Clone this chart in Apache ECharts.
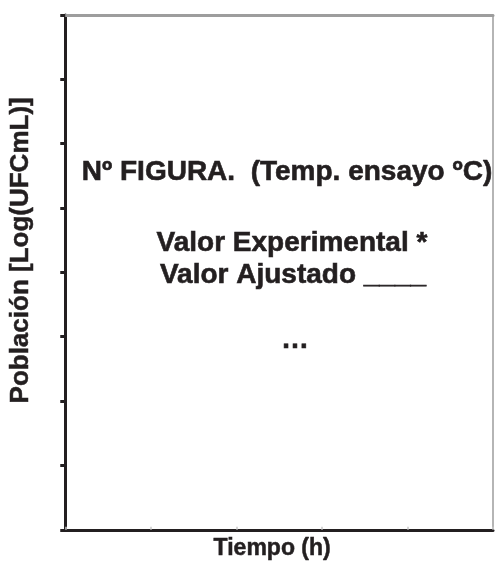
<!DOCTYPE html>
<html>
<head>
<meta charset="utf-8">
<script src="https://cdn.jsdelivr.net/npm/echarts@6/dist/echarts.min.js"></script>
<style>html,body{margin:0;padding:0;background:#fff}#c{width:495px;height:565px}</style>
</head>
<body>
<div id="c"></div>
<script>
// Template chart: no data points, only axes and placeholder texts
var xTicks = [0, 1, 2, 3, 4, 5];
var yTicks = [0, 1, 2, 3, 4, 5, 6, 7, 8];
var xAxisName = 'Tiempo (h)';
var yAxisName = 'Población [Log(UFCmL)]';
var titleText = 'Nº FIGURA.  (Temp. ensayo ºC)';
var legendLines = ['Valor Experimental *', 'Valor Ajustado ____'];
var moreText = '…';
var seriesValues = [];

var ink = '#231f20';
var font = 'Liberation Sans, Arial, sans-serif';
function txt(str, x, y, size) {
  return {type: 'text', x: x, y: y, style: {text: str, font: 'bold ' + size + 'px ' + font, fill: ink,
    stroke: ink, lineWidth: 0.6, align: 'center', verticalAlign: 'middle'}};
}
var chart = echarts.init(document.getElementById('c'), null, {renderer: 'canvas'});
chart.setOption({
  animation: false,
  grid: {left: 63, right: 2, top: 15, bottom: 33},
  xAxis: [{
    type: 'value', min: xTicks[0], max: xTicks[xTicks.length - 1], interval: 1,
    name: xAxisName, nameLocation: 'middle', nameGap: 7,
    nameTextStyle: {fontFamily: font, fontWeight: 'bold', fontSize: 23, color: ink,
      textBorderColor: ink, textBorderWidth: 0.5, padding: [0, 14, 0, 0]},
    axisLine: {lineStyle: {color: ink, width: 3}},
    axisTick: {show: true, inside: true, length: 3, lineStyle: {color: '#c8c8c8', width: 1.5}},
    axisLabel: {show: false}, splitLine: {show: false}
  }, {
    type: 'value', position: 'top', min: xTicks[0], max: xTicks[xTicks.length - 1], interval: 1,
    axisLine: {show: true, onZero: false, lineStyle: {color: '#9d9d9d', width: 3}},
    axisTick: {show: false}, axisLabel: {show: false}, splitLine: {show: false}
  }],
  yAxis: [{
    type: 'value', min: yTicks[0], max: yTicks[yTicks.length - 1], interval: 1,
    name: yAxisName, nameLocation: 'middle', nameGap: 31, nameRotate: 90,
    nameTextStyle: {fontFamily: font, fontWeight: 'bold', fontSize: 26, color: ink,
      textBorderColor: ink, textBorderWidth: 0.5, padding: [0, 0, 0, 44]},
    axisLine: {lineStyle: {color: ink, width: 3}},
    axisTick: {show: true, length: 5, lineStyle: {color: ink, width: 3}},
    axisLabel: {show: false}, splitLine: {show: false}
  }, {
    type: 'value', position: 'right', min: yTicks[0], max: yTicks[yTicks.length - 1], interval: 1,
    axisLine: {show: true, onZero: false, lineStyle: {color: '#9d9d9d', width: 1.5}},
    axisTick: {show: false}, axisLabel: {show: false}, splitLine: {show: false}
  }],
  series: [{type: 'scatter', data: seriesValues}],
  graphic: [
    txt(titleText, 287, 172, 28),
    txt(legendLines[0], 292, 243, 28),
    txt(legendLines[1], 293, 275, 28),
    txt(moreText, 295, 340, 28)
  ]
});
</script>
</body>
</html>
